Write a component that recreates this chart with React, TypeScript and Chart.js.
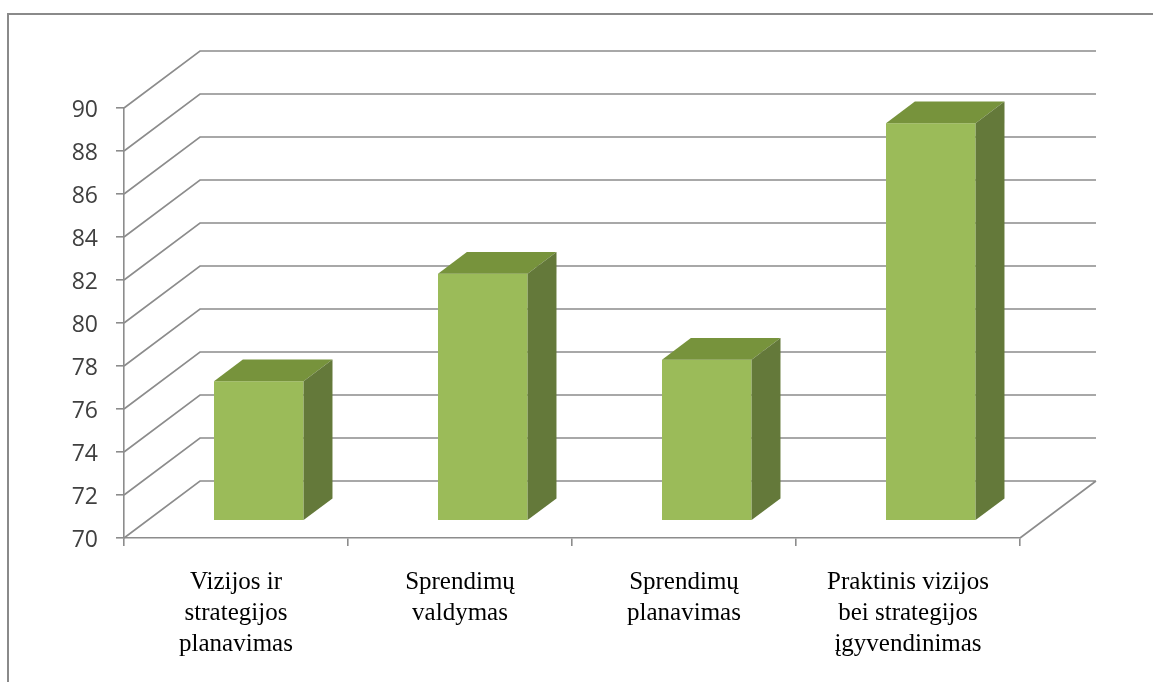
import { useEffect, useRef } from "react";
import { Chart, registerables } from "chart.js";

Chart.register(...registerables);

// Categories (multi-line labels), values and value axis settings
const categories: string[][] = [
  ["Vizijos ir", "strategijos", "planavimas"],
  ["Sprendimų", "valdymas"],
  ["Sprendimų", "planavimas"],
  ["Praktinis vizijos", "bei strategijos", "įgyvendinimas"],
];
const values: number[] = [76.5, 81.5, 77.5, 88.5];
const yMin = 70;
const yMax = 90;
const yStep = 2;

// Styling
const GRID = "#8c8c8c";
const FRONT = "#9bbb59";
const TOP = "#77933c";
const SIDE = "#64793a";

// Oblique depth of the 3D box (wall offset) and where the bars sit inside it
const DEPTH_X = 76;
const DEPTH_Y = -57;
const BAR_FRONT = 0.3;
const BAR_DEPTH = 0.38;

const box3d = {
  id: "box3d",
  beforeDraw(chart: any) {
    const { ctx, width, height } = chart;
    ctx.save();
    ctx.strokeStyle = "#8a8a8a";
    ctx.lineWidth = 2;
    ctx.beginPath();
    ctx.moveTo(8, height);
    ctx.lineTo(8, 14);
    ctx.lineTo(width, 14);
    ctx.stroke();
    ctx.restore();
  },
  beforeDatasetsDraw(chart: any) {
    const { ctx, chartArea: a } = chart;
    const y = chart.scales.y;
    ctx.save();
    ctx.strokeStyle = GRID;
    ctx.lineWidth = 1.6;
    ctx.beginPath();
    for (const t of y.ticks) {
      const py = y.getPixelForValue(t.value);
      ctx.moveTo(a.left, py);
      ctx.lineTo(a.left + DEPTH_X, py + DEPTH_Y);
      ctx.lineTo(a.right + DEPTH_X, py + DEPTH_Y);
    }
    const pb = y.getPixelForValue(yMin);
    ctx.moveTo(a.right + DEPTH_X, pb + DEPTH_Y);
    ctx.lineTo(a.right, pb);
    ctx.stroke();
    ctx.restore();
    // front faces of the bars are pushed back into the box
    ctx.save();
    ctx.translate(DEPTH_X * BAR_FRONT, DEPTH_Y * BAR_FRONT);
  },
  afterDatasetsDraw(chart: any) {
    const { ctx } = chart;
    ctx.restore();
    const fx = DEPTH_X * BAR_FRONT;
    const fy = DEPTH_Y * BAR_FRONT;
    const bx = DEPTH_X * BAR_DEPTH;
    const by = DEPTH_Y * BAR_DEPTH;
    const meta = chart.getDatasetMeta(0);
    ctx.save();
    for (const el of meta.data) {
      const p = el.getProps(["x", "y", "base", "width"], true);
      const l = p.x - p.width / 2 + fx;
      const r = p.x + p.width / 2 + fx;
      const top = p.y + fy;
      const bot = p.base + fy;
      ctx.fillStyle = TOP;
      ctx.beginPath();
      ctx.moveTo(l, top);
      ctx.lineTo(r, top);
      ctx.lineTo(r + bx, top + by);
      ctx.lineTo(l + bx, top + by);
      ctx.closePath();
      ctx.fill();
      ctx.fillStyle = SIDE;
      ctx.beginPath();
      ctx.moveTo(r, top);
      ctx.lineTo(r + bx, top + by);
      ctx.lineTo(r + bx, bot + by);
      ctx.lineTo(r, bot);
      ctx.closePath();
      ctx.fill();
    }
    ctx.restore();
  },
};

export default function App() {
  const canvasRef = useRef<HTMLCanvasElement | null>(null);

  useEffect(() => {
    const canvas = canvasRef.current;
    if (!canvas) return;
    const chart = new Chart(canvas, {
      type: "bar",
      data: {
        labels: categories,
        datasets: [
          {
            data: values,
            base: yMin,
            backgroundColor: FRONT,
            borderWidth: 0,
            barPercentage: 0.4,
            categoryPercentage: 1,
            clip: false,
          } as any,
        ],
      },
      options: {
        animation: false,
        responsive: false,
        maintainAspectRatio: false,
        layout: { padding: { left: 0, top: 108, right: 133, bottom: 0 } },
        plugins: {
          legend: { display: false },
          tooltip: { enabled: false },
        },
        scales: {
          x: {
            grid: {
              display: true,
              drawOnChartArea: false,
              drawTicks: true,
              tickLength: 8,
              color: GRID,
              lineWidth: 1.6,
              offset: true,
            },
            border: { display: true, color: GRID, width: 1.6 },
            ticks: {
              color: "#000000",
              font: { family: "'Liberation Serif', serif", size: 25, lineHeight: 1.24 },
              padding: 21,
              maxRotation: 0,
              autoSkip: false,
            },
            afterFit: (s: any) => {
              s.height = 144;
            },
          },
          y: {
            min: yMin,
            max: yMax,
            grid: {
              display: true,
              drawOnChartArea: false,
              drawTicks: true,
              tickLength: 8,
              color: GRID,
              lineWidth: 1.6,
            },
            border: { display: true, color: GRID, width: 1.6 },
            ticks: {
              stepSize: yStep,
              color: "#404040",
              font: { family: "'Open Sans', sans-serif", size: 23 },
              padding: 18,
              labelOffset: 2,
            },
            afterFit: (s: any) => {
              s.width = 124;
            },
          },
        },
      },
      plugins: [box3d],
    });
    return () => chart.destroy();
  }, []);

  return (
    <div style={{ position: "fixed", left: 0, top: 0, width: 1153, height: 682, background: "#fff" }}>
      <canvas ref={canvasRef} width={1153} height={682} style={{ display: "block" }} />
    </div>
  );
}
